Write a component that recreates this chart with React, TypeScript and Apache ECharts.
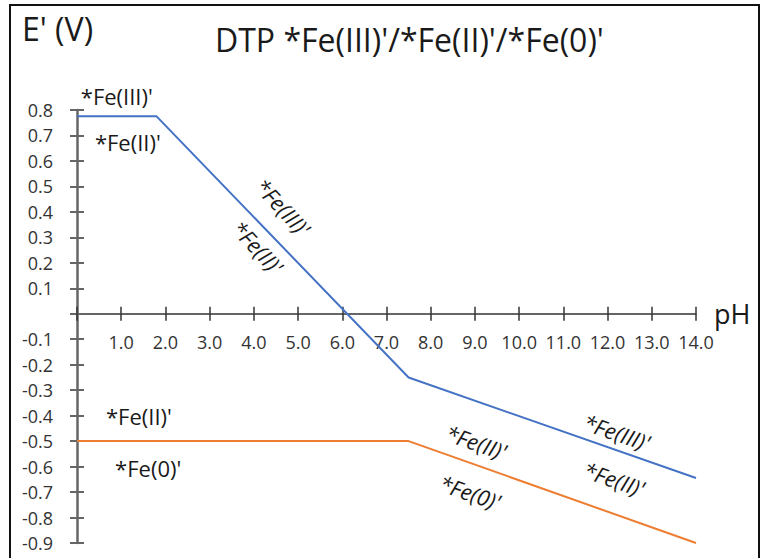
import React, { useEffect, useRef } from "react";
import * as echarts from "echarts";

const titleText = "DTP *Fe(III)'/*Fe(II)'/*Fe(0)'";
const yAxisName = "E' (V)";
const xAxisName = "pH";

const xMin = 0;
const xMax = 14;
const yMin = -0.9;
const yMax = 0.8;

const blueLine: [number, number][] = [
  [0, 0.775],
  [1.8, 0.775],
  [7.5, -0.25],
  [14, -0.645],
];
const orangeLine: [number, number][] = [
  [0, -0.5],
  [7.5, -0.5],
  [14, -0.9],
];

// annotation labels (data coordinates of their centres)
const annTexts = [
  "*Fe(III)'",
  "*Fe(II)'",
  "*Fe(III)'",
  "*Fe(II)'",
  "*Fe(II)'",
  "*Fe(0)'",
  "*Fe(II)'",
  "*Fe(0)'",
  "*Fe(III)'",
  "*Fe(II)'",
];
const annPH = [0.9, 1.15, 4.66, 4.09, 1.4, 1.61, 9.03, 8.89, 12.21, 12.15];
const annE = [0.855, 0.675, 0.419, 0.262, -0.401, -0.605, -0.503, -0.7, -0.464, -0.648];
const annRotDeg = [0, 0, -47, -47, 0, 0, -19, -19, -19, -19];
const annItalic = [false, false, true, true, false, false, true, true, true, true];

const FONT = "'Open Sans', 'Noto Sans', sans-serif";

const GRID_TOP = 110;
const GRID_BOTTOM = 15;
const CHART_H = 558;

export default function App() {
  const ref = useRef<HTMLDivElement>(null);

  useEffect(() => {
    if (!ref.current) return;
    const chart = echarts.init(ref.current, undefined, { renderer: "svg" });

    const fmt = (v: number) => (Math.abs(v) < 1e-9 ? "" : v.toFixed(1));
    const xAxisColor = "#333333";
    const yAxisColor = "#666666";
    const labelColor = "#333333";

    // place the x axis on E = 0 (offset from grid bottom, upward)
    const gridH = CHART_H - GRID_TOP - GRID_BOTTOM;
    const zeroOffset = -((0 - yMin) / (yMax - yMin)) * gridH;

    const option: any = {
      animation: false,
      backgroundColor: "#ffffff",
      textStyle: { fontFamily: FONT },
      title: [
        {
          text: titleText,
          left: 215,
          top: 23,
          padding: 0,
          textStyle: { fontFamily: FONT, fontSize: 32, fontWeight: "normal", color: "#1a1a1a" },
        },
        {
          text: yAxisName,
          left: 22,
          top: 12,
          padding: 0,
          textStyle: { fontFamily: FONT, fontSize: 32, fontWeight: "normal", color: "#1a1a1a" },
        },
      ],
      grid: { left: 77, right: 68, top: GRID_TOP, bottom: GRID_BOTTOM, containLabel: false },
      xAxis: [
        {
          type: "value",
          position: "bottom",
          offset: zeroOffset,
          min: xMin,
          max: xMax,
          interval: 1,
          name: xAxisName,
          nameLocation: "end",
          nameGap: 18,
          nameTextStyle: { fontFamily: FONT, fontSize: 27, color: "#1a1a1a" },
          axisLine: { show: true, onZero: false, lineStyle: { color: xAxisColor, width: 1.5 } },
          axisTick: { show: true, inside: false, length: 7, lineStyle: { color: xAxisColor, width: 1.5 } },
          axisLabel: {
            show: true,
            formatter: fmt,
            margin: 19,
            fontFamily: FONT,
            fontSize: 18,
            color: labelColor,
          },
          splitLine: { show: false },
        },
        {
          type: "value",
          position: "bottom",
          offset: zeroOffset,
          min: xMin,
          max: xMax,
          interval: 1,
          axisLine: { show: false, onZero: false },
          axisTick: { show: true, inside: true, length: 7, lineStyle: { color: xAxisColor, width: 1.5 } },
          axisLabel: { show: false },
          splitLine: { show: false },
        },
      ],
      yAxis: [
        {
          type: "value",
          position: "left",
          min: yMin,
          max: yMax,
          interval: 0.1,
          axisLine: { show: true, onZero: false, lineStyle: { color: yAxisColor, width: 2.5 } },
          axisTick: { show: true, inside: false, length: 7, lineStyle: { color: yAxisColor, width: 2 } },
          axisLabel: {
            show: true,
            formatter: fmt,
            margin: 24,
            fontFamily: FONT,
            fontSize: 18,
            color: labelColor,
          },
          splitLine: { show: false },
        },
        {
          type: "value",
          position: "left",
          min: yMin,
          max: yMax,
          interval: 0.1,
          axisLine: { show: false, onZero: false },
          axisTick: { show: true, inside: true, length: 7, lineStyle: { color: yAxisColor, width: 2 } },
          axisLabel: { show: false },
          splitLine: { show: false },
        },
      ],
      series: [
        {
          type: "line",
          name: "Fe(III)/Fe(II)",
          xAxisIndex: 0,
          yAxisIndex: 0,
          data: blueLine,
          symbol: "none",
          lineStyle: { color: "#4472C4", width: 2 },
          z: 5,
        },
        {
          type: "line",
          name: "Fe(II)/Fe(0)",
          xAxisIndex: 0,
          yAxisIndex: 0,
          data: orangeLine,
          symbol: "none",
          lineStyle: { color: "#ED7D31", width: 2 },
          z: 5,
        },
      ],
    };

    chart.setOption(option);

    const texts = annTexts.map((t, i) => {
      const p = chart.convertToPixel({ xAxisIndex: 0, yAxisIndex: 0 }, [annPH[i], annE[i]]) as number[];
      return {
        type: "text",
        x: p[0],
        y: p[1],
        rotation: (annRotDeg[i] * Math.PI) / 180,
        z: 10,
        style: {
          text: t,
          fontFamily: FONT,
          fontSize: 22,
          fontStyle: annItalic[i] ? "italic" : "normal",
          fill: "#1a1a1a",
          align: "center",
          verticalAlign: "middle",
        },
      };
    });

    chart.setOption({
      graphic: [
        {
          type: "rect",
          shape: { x: 10, y: 5, width: 749, height: 600 },
          style: { fill: "none", stroke: "#111111", lineWidth: 2 },
          z: 20,
          silent: true,
        },
        ...texts,
      ],
    });

    return () => chart.dispose();
  }, []);

  return (
    <div
      ref={ref}
      style={{ position: "absolute", left: 0, top: 0, width: 764, height: 558, background: "#fff" }}
    />
  );
}
